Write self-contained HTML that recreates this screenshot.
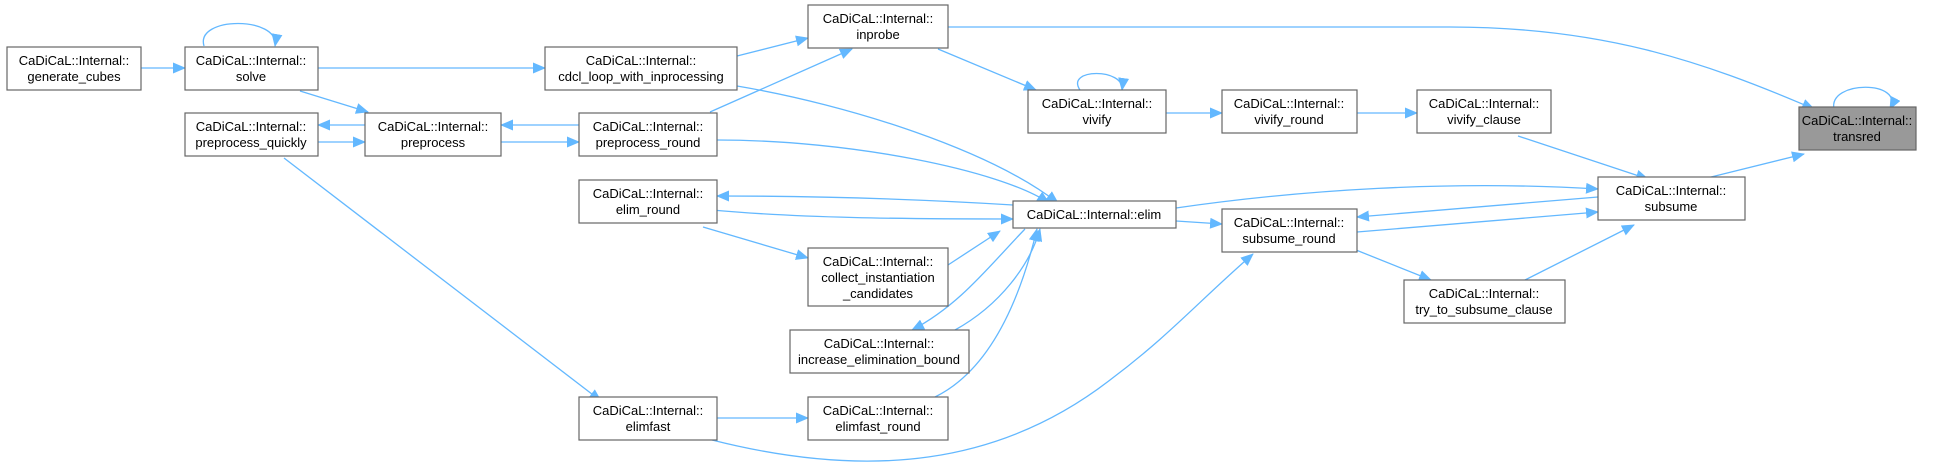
<!DOCTYPE html>
<html><head><meta charset="utf-8"><style>
body{margin:0;background:#fff;width:1935px;height:471px;overflow:hidden}
svg{display:block}
text{font-family:"Liberation Sans",Arial,sans-serif;font-size:13px;fill:#000;text-anchor:middle}
rect{fill:#fff;stroke:#666;stroke-width:1.2}
path.e{fill:none;stroke:#63b8ff;stroke-width:1.3}
</style></head><body>
<svg width="1935" height="471" viewBox="0 0 1935 471">
<defs><marker id="a" markerUnits="userSpaceOnUse" markerWidth="13" markerHeight="11" refX="12" refY="5.5" orient="auto"><path d="M0,0 L13,5.5 L0,11 z" fill="#63b8ff"/></marker></defs>
<g marker-end="url(#a)">
<path class="e" d="M141,68 L185,68"/>
<path class="e" d="M318,68 L545,68"/>
<path class="e" d="M300,91 L368,112"/>
<path class="e" d="M365,125 L318,125"/>
<path class="e" d="M318,142 L365,142"/>
<path class="e" d="M579,125 L501,125"/>
<path class="e" d="M501,142 L579,142"/>
<path class="e" d="M737,56 L808,38"/>
<path class="e" d="M710,112 L852,49"/>
<path class="e" d="M948,27 L1450,27 C1600,27 1700,60 1814,109"/>
<path class="e" d="M938,49 L1036,90"/>
<path class="e" d="M1080,90 C1065,68 1125,68 1122,90"/>
<path class="e" d="M204,46 C195,16 280,16 275,46"/>
<path class="e" d="M1834,109 C1828,80 1905,80 1890,109"/>
<path class="e" d="M1166,113 L1222,113"/>
<path class="e" d="M1357,113 L1417,113"/>
<path class="e" d="M1518,136 L1648,179"/>
<path class="e" d="M1703,179 L1804,154"/>
<path class="e" d="M1176,208 C1300,190 1450,180 1598,189"/>
<path class="e" d="M1598,197 L1357,217"/>
<path class="e" d="M1357,232 L1598,212"/>
<path class="e" d="M1176,221 L1222,224"/>
<path class="e" d="M1351,248 L1431,280"/>
<path class="e" d="M1525,280 L1634,225"/>
<path class="e" d="M737,86 C850,105 990,150 1058,203"/>
<path class="e" d="M717,140 C850,140 1000,170 1049,203"/>
<path class="e" d="M1013,205 C900,198 800,196 717,196"/>
<path class="e" d="M712,210 C800,218 900,219 1013,219"/>
<path class="e" d="M703,227 L808,258"/>
<path class="e" d="M948,265 L1000,231"/>
<path class="e" d="M1025,229 C990,265 960,305 912,330"/>
<path class="e" d="M955,330 C1000,305 1030,265 1040,229"/>
<path class="e" d="M935,397 C990,370 1020,300 1037,229"/>
<path class="e" d="M717,418 L808,418"/>
<path class="e" d="M284,158 L601,401"/>
<path class="e" d="M712,440 C870,480 1000,465 1110,380 C1170,335 1200,300 1253,254"/>
</g>
<rect x="7" y="47" width="134" height="43"/><text x="74" y="65">CaDiCaL::Internal::</text><text x="74" y="81">generate_cubes</text>
<rect x="185" y="47" width="133" height="43"/><text x="251" y="65">CaDiCaL::Internal::</text><text x="251" y="81">solve</text>
<rect x="545" y="47" width="192" height="43"/><text x="641" y="65">CaDiCaL::Internal::</text><text x="641" y="81">cdcl_loop_with_inprocessing</text>
<rect x="808" y="5" width="140" height="43"/><text x="878" y="23">CaDiCaL::Internal::</text><text x="878" y="39">inprobe</text>
<rect x="185" y="113" width="133" height="43"/><text x="251" y="131">CaDiCaL::Internal::</text><text x="251" y="147">preprocess_quickly</text>
<rect x="365" y="113" width="136" height="43"/><text x="433" y="131">CaDiCaL::Internal::</text><text x="433" y="147">preprocess</text>
<rect x="579" y="113" width="138" height="43"/><text x="648" y="131">CaDiCaL::Internal::</text><text x="648" y="147">preprocess_round</text>
<rect x="579" y="180" width="138" height="43"/><text x="648" y="198">CaDiCaL::Internal::</text><text x="648" y="214">elim_round</text>
<rect x="579" y="397" width="138" height="43"/><text x="648" y="415">CaDiCaL::Internal::</text><text x="648" y="431">elimfast</text>
<rect x="1028" y="90" width="138" height="43"/><text x="1097" y="108">CaDiCaL::Internal::</text><text x="1097" y="124">vivify</text>
<rect x="1222" y="90" width="135" height="43"/><text x="1289" y="108">CaDiCaL::Internal::</text><text x="1289" y="124">vivify_round</text>
<rect x="1417" y="90" width="134" height="43"/><text x="1484" y="108">CaDiCaL::Internal::</text><text x="1484" y="124">vivify_clause</text>
<rect x="1013" y="201" width="163" height="27"/><text x="1094" y="219">CaDiCaL::Internal::elim</text>
<rect x="808" y="248" width="140" height="58"/><text x="878" y="266">CaDiCaL::Internal::</text><text x="878" y="282">collect_instantiation</text><text x="878" y="298">_candidates</text>
<rect x="790" y="330" width="179" height="43"/><text x="879" y="348">CaDiCaL::Internal::</text><text x="879" y="364">increase_elimination_bound</text>
<rect x="808" y="397" width="140" height="43"/><text x="878" y="415">CaDiCaL::Internal::</text><text x="878" y="431">elimfast_round</text>
<rect x="1222" y="209" width="135" height="43"/><text x="1289" y="227">CaDiCaL::Internal::</text><text x="1289" y="243">subsume_round</text>
<rect x="1598" y="177" width="147" height="43"/><text x="1671" y="195">CaDiCaL::Internal::</text><text x="1671" y="211">subsume</text>
<rect x="1404" y="280" width="161" height="43"/><text x="1484" y="298">CaDiCaL::Internal::</text><text x="1484" y="314">try_to_subsume_clause</text>
<rect x="1799" y="107" width="117" height="43" style="fill:#999"/><text x="1857" y="125">CaDiCaL::Internal::</text><text x="1857" y="141">transred</text>
</svg>
</body></html>
